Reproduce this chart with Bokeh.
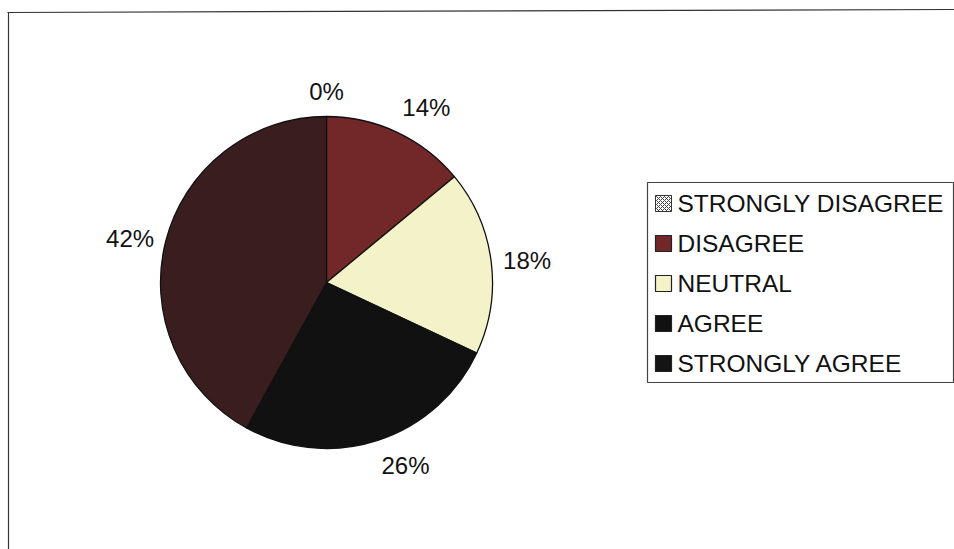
import math
from bokeh.plotting import figure
from bokeh.models import Range1d
from bokeh.core.properties import value
from bokeh.embed import file_html
from bokeh.resources import INLINE

# Survey responses (percent of respondents)
categories = ["STRONGLY DISAGREE", "DISAGREE", "NEUTRAL", "AGREE", "STRONGLY AGREE"]
percents = [0, 14, 18, 26, 42]
slice_colors = ["#9a9a9a", "#722728", "#f4f2c8", "#111111", "#3a1d1e"]
swatch_colors = ["#ffffff", "#722728", "#f4f2c8", "#111111", "#141414"]

W, H = 954, 549
FONT = "Liberation Sans"

p = figure(width=W, height=H, output_backend="svg", toolbar_location=None,
           x_range=Range1d(0, W), y_range=Range1d(0, H), min_border=0)
p.axis.visible = False
p.grid.visible = False
p.outline_line_color = None
p.background_fill_color = "white"
p.border_fill_color = "white"

# page frame (top and left edges)
p.segment(x0=[7, 8], y0=[H - 12, H - 12], x1=[W, 8], y1=[H - 9, 0],
          line_color="#333333", line_width=1.2)

# pie geometry (screen pixels, y measured from the top)
cx, cy, r = 326, 282, 166
cyd = H - cy
total = sum(percents)
cum = 0.0
label_r = 178
for cat, pct, col in zip(categories, percents, slice_colors):
    a0 = cum / total
    a1 = (cum + pct) / total
    cum += pct
    # clockwise from 12 o'clock
    start = math.pi / 2 - a1 * 2 * math.pi
    end = math.pi / 2 - a0 * 2 * math.pi
    if pct > 0:
        p.wedge(x=cx, y=cyd, radius=r, start_angle=start, end_angle=end,
                fill_color=col, line_color="#111111", line_width=1.3)
    mid = (a0 + a1) / 2 * 2 * math.pi
    sx, sy = math.sin(mid), math.cos(mid)
    lx = cx + label_r * sx
    ly = cyd + label_r * sy
    align = "left" if sx > 0.3 else ("right" if sx < -0.3 else "center")
    base = "bottom" if sy > 0.3 else ("top" if sy < -0.3 else "middle")
    p.text(x=[lx], y=[ly], text=[f"{pct}%"], text_align=align, text_baseline=base,
           text_font=value(FONT), text_font_size="24px", text_color="#111111")

# legend box
lx0, ly0, lx1, ly1 = 647, 182, 953, 382
p.quad(left=lx0, right=lx1, bottom=H - ly1, top=H - ly0,
       fill_color="white", line_color="#444444", line_width=1.2)
row0, step = 203, 40
for i, (cat, col) in enumerate(zip(categories, swatch_colors)):
    yy = H - (row0 + i * step)
    if i == 0:
        p.scatter(x=[663], y=[yy], marker="square", size=16, fill_color="white",
                  hatch_pattern="x", hatch_color="#444444", hatch_scale=4,
                  line_color="#333333", line_width=1)
    else:
        p.scatter(x=[663], y=[yy], marker="square", size=16, fill_color=col,
                  line_color="#222222", line_width=1.2)
    p.text(x=[677], y=[yy], text=[cat], text_align="left", text_baseline="middle",
           text_font=value(FONT), text_font_size="24.5px", text_color="#111111")

open("out.html", "w").write(file_html(p, INLINE))
